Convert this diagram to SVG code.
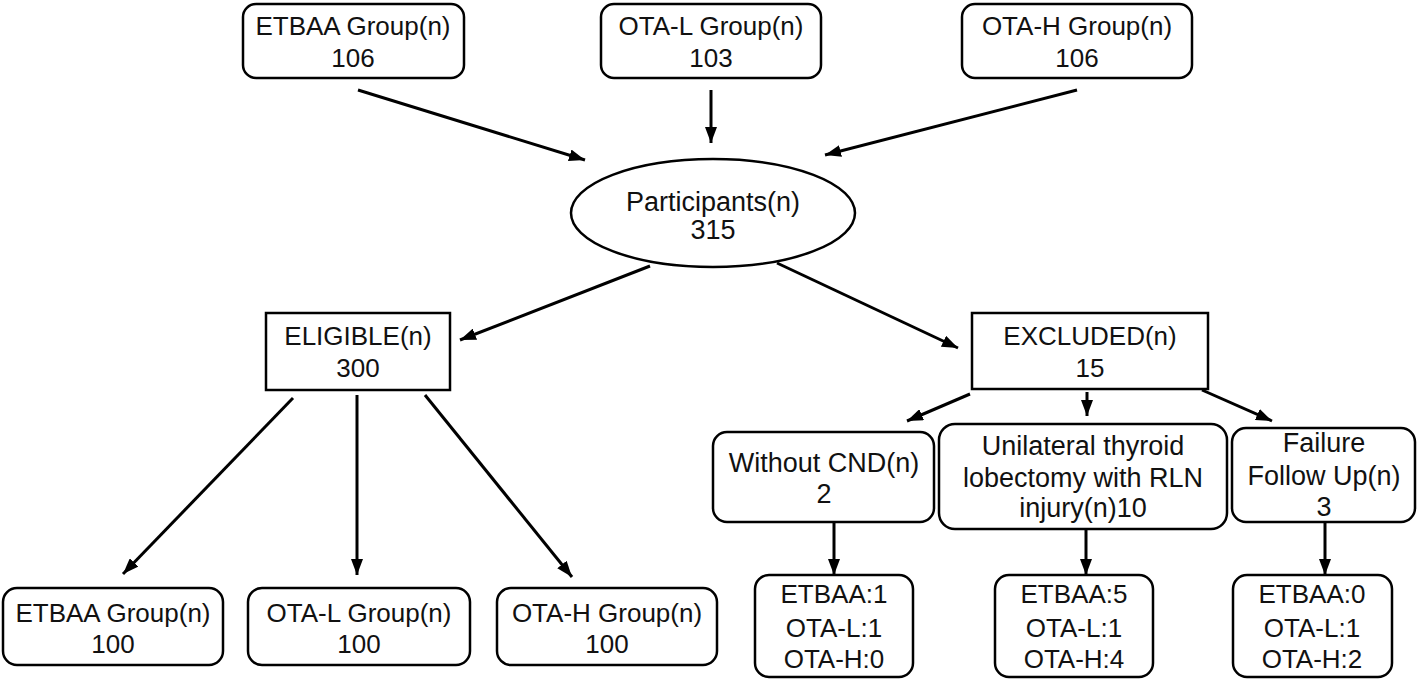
<svg xmlns="http://www.w3.org/2000/svg" width="1418" height="681" viewBox="0 0 1418 681">
<style>
.box{fill:#fff;stroke:#000;stroke-width:2.5}
.t{font-family:"Liberation Sans",Arial,sans-serif;font-size:26px;fill:#111;text-anchor:middle}
.t27{font-size:27px}
.c{stroke:#000;stroke-width:3;fill:none}
</style>
<defs>
<marker id="ah" viewBox="0 0 16 12" markerWidth="16" markerHeight="12" markerUnits="userSpaceOnUse" refX="16" refY="6" orient="auto">
<path d="M0,0 L16,6 L0,12 z" fill="#000"/>
</marker>
</defs>
<rect width="1418" height="681" fill="#fff"/>

<g id="connectors">
<line class="c" x1="358" y1="90" x2="585" y2="160" marker-end="url(#ah)"/>
<line class="c" x1="711" y1="90" x2="711" y2="143" marker-end="url(#ah)"/>
<line class="c" x1="1077" y1="90" x2="825" y2="155" marker-end="url(#ah)"/>
<line class="c" x1="650" y1="266" x2="460" y2="340" marker-end="url(#ah)"/>
<line class="c" x1="777" y1="263" x2="958" y2="348" marker-end="url(#ah)"/>
<line class="c" x1="293" y1="398" x2="123" y2="574" marker-end="url(#ah)"/>
<line class="c" x1="357" y1="395" x2="357" y2="575" marker-end="url(#ah)"/>
<line class="c" x1="425" y1="395" x2="572" y2="577" marker-end="url(#ah)"/>
<line class="c" x1="970" y1="394" x2="907" y2="421" marker-end="url(#ah)"/>
<line class="c" x1="1087" y1="392" x2="1087" y2="416" marker-end="url(#ah)"/>
<line class="c" x1="1202" y1="390" x2="1272" y2="421" marker-end="url(#ah)"/>
<line class="c" x1="834" y1="522" x2="834" y2="575" marker-end="url(#ah)"/>
<line class="c" x1="1086" y1="529" x2="1086" y2="575" marker-end="url(#ah)"/>
<line class="c" x1="1325" y1="522" x2="1325" y2="575" marker-end="url(#ah)"/>
</g>

<g id="top-etbaa">
<rect class="box" x="243" y="4" width="221" height="74" rx="13"/>
<text class="t" x="353" y="35">ETBAA Group(n)</text>
<text class="t" x="353" y="67">106</text>
</g>
<g id="top-otal">
<rect class="box" x="601" y="4" width="220" height="74" rx="13"/>
<text class="t" x="711" y="35">OTA-L Group(n)</text>
<text class="t" x="711" y="67">103</text>
</g>
<g id="top-otah">
<rect class="box" x="962" y="4" width="230" height="74" rx="13"/>
<text class="t" x="1077" y="35">OTA-H Group(n)</text>
<text class="t" x="1077" y="67">106</text>
</g>

<g id="participants">
<ellipse class="box" cx="713" cy="213" rx="142" ry="54"/>
<text class="t t27" x="713" y="211">Participants(n)</text>
<text class="t t27" x="713" y="239">315</text>
</g>

<g id="eligible">
<rect class="box" x="266" y="313" width="184" height="77"/>
<text class="t" x="358" y="345">ELIGIBLE(n)</text>
<text class="t" x="358" y="377">300</text>
</g>
<g id="excluded">
<rect class="box" x="972" y="313" width="236" height="76"/>
<text class="t" x="1090" y="345">EXCLUDED(n)</text>
<text class="t" x="1090" y="377">15</text>
</g>

<g id="without-cnd">
<rect class="box" x="713" y="432" width="221" height="90" rx="14"/>
<text class="t t27" x="824" y="472">Without CND(n)</text>
<text class="t t27" x="824" y="503">2</text>
</g>
<g id="unilateral">
<rect class="box" x="939" y="424" width="288" height="105" rx="16"/>
<text class="t t27" x="1083" y="455">Unilateral thyroid</text>
<text class="t t27" x="1083" y="487">lobectomy with RLN</text>
<text class="t t27" x="1083" y="517">injury(n)10</text>
</g>
<g id="failure">
<rect class="box" x="1232" y="428" width="183" height="94" rx="14"/>
<text class="t t27" x="1324" y="452">Failure</text>
<text class="t t27" x="1324" y="485">Follow Up(n)</text>
<text class="t t27" x="1324" y="516">3</text>
</g>

<g id="bottom-etbaa">
<rect class="box" x="3" y="588" width="220" height="77" rx="14"/>
<text class="t" x="113" y="622">ETBAA Group(n)</text>
<text class="t" x="113" y="653">100</text>
</g>
<g id="bottom-otal">
<rect class="box" x="248" y="588" width="222" height="77" rx="14"/>
<text class="t" x="359" y="622">OTA-L Group(n)</text>
<text class="t" x="359" y="653">100</text>
</g>
<g id="bottom-otah">
<rect class="box" x="497" y="588" width="220" height="77" rx="14"/>
<text class="t" x="607" y="622">OTA-H Group(n)</text>
<text class="t" x="607" y="653">100</text>
</g>

<g id="detail-cnd">
<rect class="box" x="755" y="575" width="158" height="102" rx="14"/>
<text class="t" x="834" y="603">ETBAA:1</text>
<text class="t" x="834" y="637">OTA-L:1</text>
<text class="t" x="834" y="668">OTA-H:0</text>
</g>
<g id="detail-rln">
<rect class="box" x="995" y="575" width="158" height="102" rx="14"/>
<text class="t" x="1074" y="603">ETBAA:5</text>
<text class="t" x="1074" y="637">OTA-L:1</text>
<text class="t" x="1074" y="668">OTA-H:4</text>
</g>
<g id="detail-failure">
<rect class="box" x="1233" y="575" width="159" height="102" rx="14"/>
<text class="t" x="1312" y="603">ETBAA:0</text>
<text class="t" x="1312" y="637">OTA-L:1</text>
<text class="t" x="1312" y="668">OTA-H:2</text>
</g>
</svg>
